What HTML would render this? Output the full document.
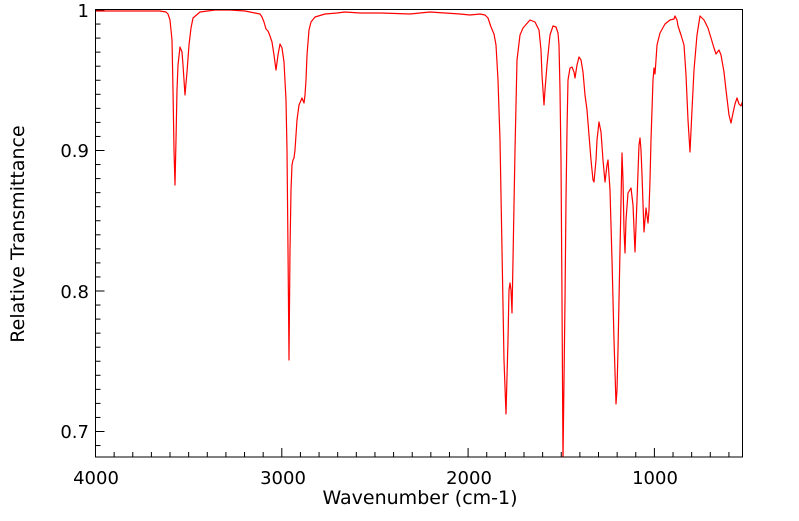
<!DOCTYPE html>
<html><head><style>
body{margin:0;background:#fff;}
svg text{font-family:"DejaVu Sans",sans-serif;font-size:18px;fill:#000;}
svg text.t{font-size:19px;}
</style></head><body>
<svg width="799" height="516" viewBox="0 0 799 516" xmlns="http://www.w3.org/2000/svg">
<defs><clipPath id="c"><rect x="95.5" y="9.5" width="647" height="447.5"/></clipPath></defs>
<g stroke="#000" stroke-width="1" id="ticks"></g>
<polyline clip-path="url(#c)" fill="none" stroke="#f00" stroke-width="1.2" stroke-linejoin="round" points="
96,11 160,11 166,12 168,14 170,20 172,40 173,90 174,150 175,185 176,140 177,90 178,65 180,47 182,52 183,65 185,95 187,72 189,45 191,28 193,18 200,12 215,10 230,10 245,11 255,13 260,14 262,17 264,22 266,29 268,31 270,36 272,42 274,55 276,70 278,55 280,44 282,48 284,62 286,100 287,150 288,250 289,360 290,250 291,190 292,165 293,160 294,158 295,150 297,120 299,105 302,98 304,103 305,95 306,80 307,55 309,30 311,22 315,17 325,14 337,13 345,12 360,13 380,13 410,14 430,12 460,14 470,15 480,14 485,15 488,18 491,27 494,34 496,45 498,80 500,140 502,250 504,360 506,414 508,340 509,290 510,283 511,290 512,313 513,260 515,150 517,60 520,35 523,28 530,20 535,22 539,30 541,50 542,75 544,105 545,90 547,65 550,35 553,26 556,27 558,33 559,45 560,90 561,160 562,300 563,460 564,380 565,300 566,200 567,130 568,80 570,68 572,67 574,72 575,78 577,65 579,57 581,60 583,72 585,95 587,110 589,135 591,160 593,180 594,182 596,160 597,140 599,122 601,132 603,160 605,182 607,165 608,160 610,190 612,260 614,340 616,404 617,390 618,350 620,250 622,153 623,180 624,230 625,253 626,220 628,193 631,188 633,205 635,252 637,200 639,145 640,138 641,150 642,175 644,232 646,208 648,223 649,210 650,180 651,140 653,80 654,68 655,74 656,60 657,45 660,33 665,24 670,20 674,19 675,16 677,20 678,26 681,35 684,45 686,75 688,120 690,152 692,110 694,70 697,35 700,16 704,20 708,28 711,38 714,48 716,54 719,50 721,55 724,72 726,90 729,115 731,123 733,113 735,104 737,98 739,104 741,106 743,100"/>
<rect x="95.5" y="9.5" width="647" height="447.5" fill="none" stroke="#000" stroke-width="1"/>
<text x="89" y="17" text-anchor="end">1</text>
<text x="89" y="157" text-anchor="end">0.9</text>
<text x="89" y="298" text-anchor="end">0.8</text>
<text x="89" y="438" text-anchor="end">0.7</text>
<text x="96" y="484" text-anchor="middle">4000</text>
<text x="283" y="484" text-anchor="middle">3000</text>
<text x="469" y="484" text-anchor="middle">2000</text>
<text x="655" y="484" text-anchor="middle">1000</text>
<text class="t" x="420" y="504" text-anchor="middle">Wavenumber (cm-1)</text>
<text class="t" transform="translate(24,234) rotate(-90)" text-anchor="middle">Relative Transmittance</text>
</svg>
<script>
var g=document.getElementById('ticks'),s='';
for(var w=4000;w>=600;w-=100){var x=95.5+(4000-w)*0.1863;var L=(w%1000==0)?9:5;s+='<line x1="'+x+'" y1="457" x2="'+x+'" y2="'+(457-L)+'"/>';}
for(var i=0;i<=31;i++){var y=10+i*14.05;if(y>457)break;var L=(i%10==0)?9:5;s+='<line x1="95.5" y1="'+y+'" x2="'+(95.5+L)+'" y2="'+y+'"/>';}
g.innerHTML=s;
</script>
</body></html>
